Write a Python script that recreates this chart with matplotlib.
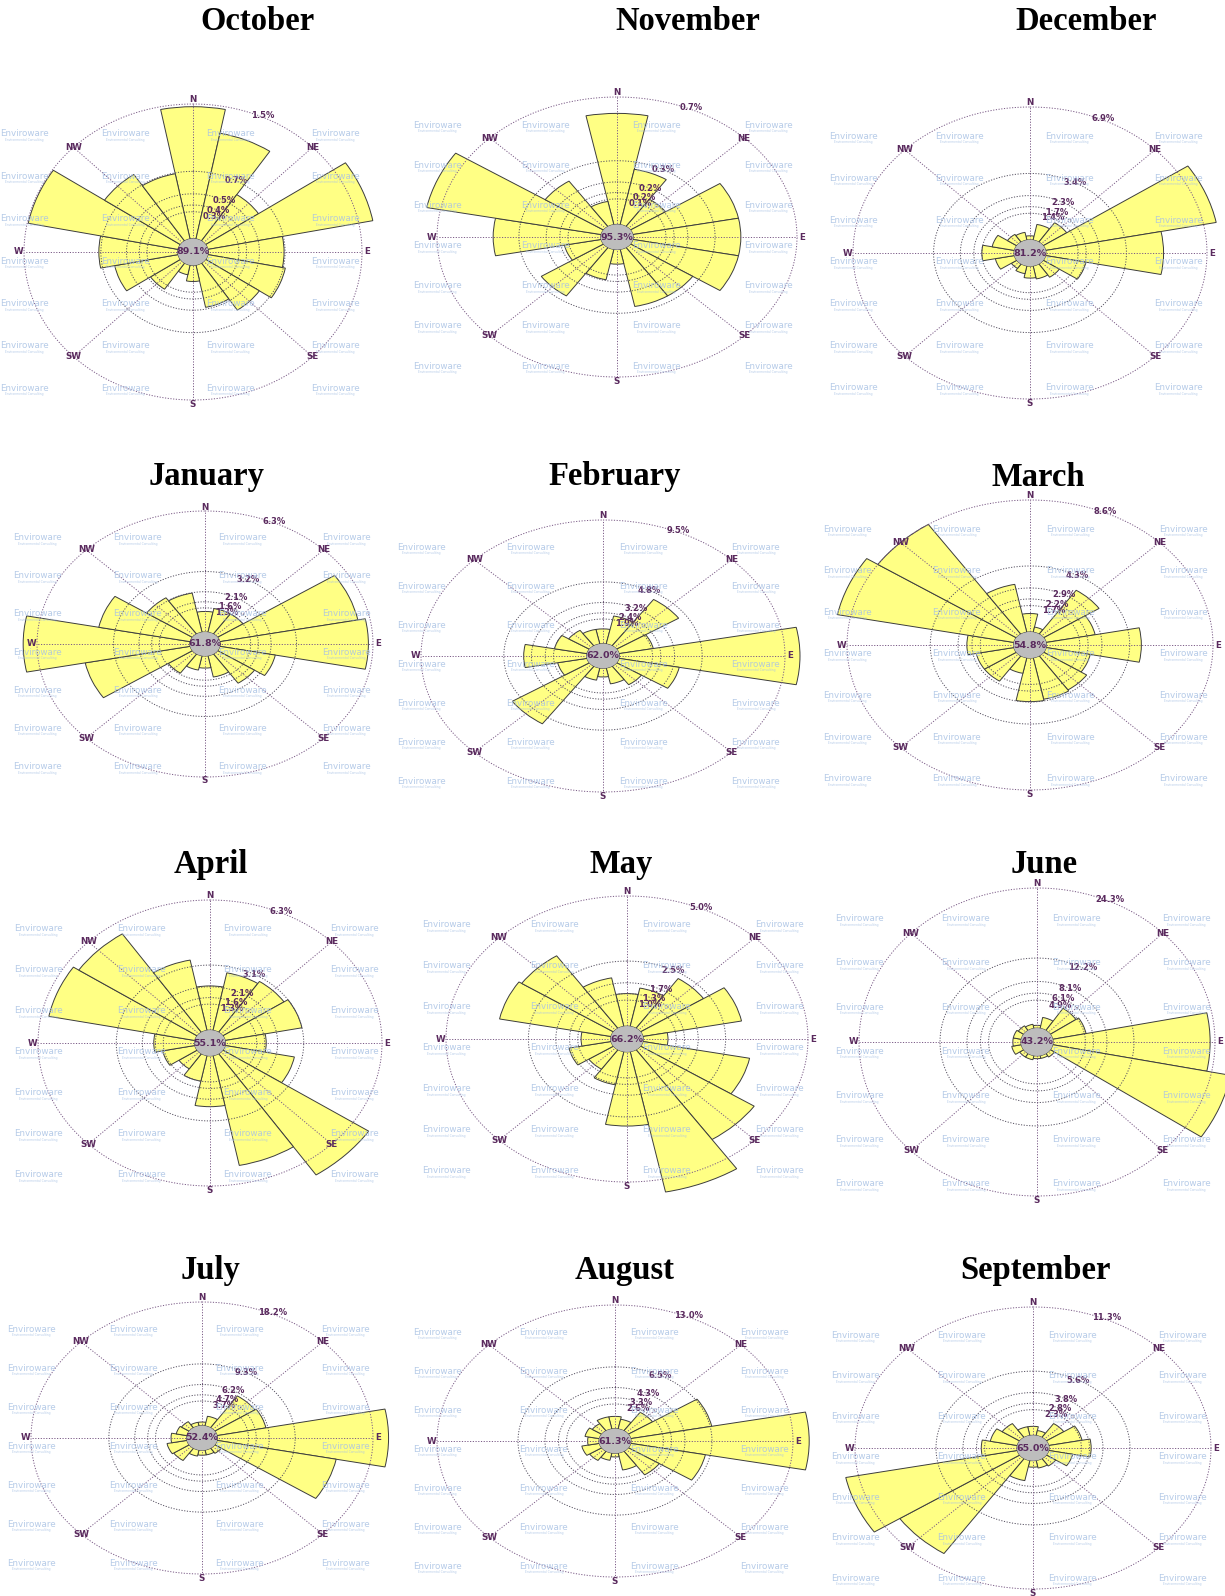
import numpy as np
import matplotlib.pyplot as plt

# monthly wind roses, 16 sectors clockwise from north, frequencies in %
directions = ['N', 'NNE', 'NE', 'ENE', 'E', 'ESE', 'SE', 'SSE',
              'S', 'SSW', 'SW', 'WSW', 'W', 'WNW', 'NW', 'NNW']
compass = ['N', 'NE', 'E', 'SE', 'S', 'SW', 'W', 'NW']

months = ['October', 'November', 'December', 'January', 'February', 'March',
          'April', 'May', 'June', 'July', 'August', 'September']

oct_freq = [1.47, 1.20, 0.62, 1.64, 0.74, 0.77, 0.63, 0.48, 0.18, 0.11, 0.35, 0.63, 0.77, 1.49, 0.89, 0.74]
nov_freq = [0.61, 0.31, 0.18, 0.46, 0.46, 0.46, 0.32, 0.32, 0.08, 0.17, 0.32, 0.16, 0.46, 0.76, 0.30, 0.13]
dec_freq = [0.21, 0.83, 1.21, 7.45, 5.04, 1.76, 0.83, 0.69, 0.62, 0.41, 0.28, 0.83, 1.38, 0.97, 0.48, 0.41]
jan_freq = [1.07, 1.26, 1.26, 5.80, 6.11, 2.33, 1.83, 1.13, 0.63, 0.76, 1.20, 4.41, 6.87, 3.84, 2.27, 2.08]
feb_freq = [1.14, 2.19, 4.28, 2.00, 10.36, 3.52, 1.71, 1.24, 0.67, 0.95, 5.32, 1.71, 3.61, 1.90, 1.43, 1.14]
mar_freq = [1.20, 0.34, 3.44, 2.58, 4.90, 2.32, 2.67, 2.75, 2.84, 1.03, 1.98, 1.98, 2.41, 9.29, 8.60, 3.18]
apr_freq = [2.14, 2.84, 2.96, 3.15, 1.64, 2.84, 7.06, 5.42, 2.46, 1.26, 0.88, 1.32, 1.64, 5.99, 5.73, 3.47]
may_freq = [1.25, 1.50, 2.30, 3.05, 0.75, 3.30, 4.15, 5.50, 2.85, 1.30, 0.90, 1.30, 0.90, 3.45, 3.35, 1.90]
jun_freq = [0.49, 1.94, 4.62, 5.10, 23.57, 27.22, 0.73, 0.49, 0.49, 0.73, 0.73, 1.46, 1.22, 1.22, 0.97, 0.73]
jul_freq = [0.55, 1.46, 5.64, 5.82, 20.02, 14.20, 0.91, 0.73, 0.73, 0.91, 2.18, 2.37, 1.82, 1.27, 1.09, 0.55]
aug_freq = [1.30, 1.04, 2.34, 6.63, 14.30, 6.11, 2.99, 1.82, 0.39, 0.78, 1.17, 1.43, 0.91, 1.17, 0.91, 1.30]
sep_freq = [0.79, 0.45, 1.47, 2.37, 2.94, 1.70, 0.79, 0.68, 0.57, 1.81, 10.06, 12.20, 2.49, 1.92, 1.47, 0.79]
freqs = [oct_freq, nov_freq, dec_freq, jan_freq, feb_freq, mar_freq,
         apr_freq, may_freq, jun_freq, jul_freq, aug_freq, sep_freq]

calms = ['89.1%', '95.3%', '81.2%', '61.8%', '62.0%', '54.8%',
         '55.1%', '66.2%', '43.2%', '52.4%', '61.3%', '65.0%']

# outer ring value, inner rings sit at 1/2, 1/3, 1/4, 1/5 of it
ring_max = [1.5, 0.7, 6.9, 6.3, 9.5, 8.6, 6.3, 5.0, 24.3, 18.2, 13.0, 11.3]
ring_labels = [
    ['1.5%', '0.7%', '0.5%', '0.4%', '0.3%'],
    ['0.7%', '0.3%', '0.2%', '0.2%', '0.1%'],
    ['6.9%', '3.4%', '2.3%', '1.7%', '1.4%'],
    ['6.3%', '3.2%', '2.1%', '1.6%', '1.3%'],
    ['9.5%', '4.8%', '3.2%', '2.4%', '1.9%'],
    ['8.6%', '4.3%', '2.9%', '2.2%', '1.7%'],
    ['6.3%', '3.1%', '2.1%', '1.6%', '1.3%'],
    ['5.0%', '2.5%', '1.7%', '1.3%', '1.0%'],
    ['24.3%', '12.2%', '8.1%', '6.1%', '4.9%'],
    ['18.2%', '9.3%', '6.2%', '4.7%', '3.7%'],
    ['13.0%', '6.5%', '4.3%', '3.3%', '2.6%'],
    ['11.3%', '5.6%', '3.8%', '2.8%', '2.3%'],
]

# layout in pixels: rose centre, outer ring half-width / half-height, title spot
W, H = 1225, 1596
centers = [(193, 252), (617, 237), (1030, 253),
           (205, 644), (603, 656), (1030, 645),
           (210, 1043), (627, 1039), (1037, 1042),
           (202, 1438), (615, 1441), (1033, 1448)]
radii = [(169, 148), (180, 140), (177, 146),
         (168, 133), (182, 136), (183, 145),
         (172, 143), (181, 143), (178, 154),
         (171, 136), (178, 136), (178, 141)]
title_xy = [(257, 22), (688, 22), (1086, 22),
            (207, 477), (615, 477), (1038, 477),
            (211, 865), (621, 865), (1044, 865),
            (211, 1271), (625, 1271), (1035, 1271)]

CALM_R = 0.09
RMAX = 1.14
purple = '#5a2a5e'
grid_c = '#7a5a86'

fig = plt.figure(figsize=(W / 100, H / 100), dpi=100)
fig.patch.set_facecolor('white')

theta = np.deg2rad(np.arange(16) * 22.5)
ring_t = np.linspace(0, 2 * np.pi, 361)

for i, month in enumerate(months):
    cx, cy = centers[i]
    hr, vr = radii[i]
    ax = fig.add_axes([(cx - hr * RMAX) / W, 1 - (cy + vr * RMAX) / H,
                       2 * hr * RMAX / W, 2 * vr * RMAX / H], projection='polar')
    ax.set_aspect('auto')
    ax.set_theta_zero_location('N')
    ax.set_theta_direction(-1)
    ax.set_ylim(0, RMAX)
    ax.axis('off')

    vals = np.array(freqs[i])
    M = ring_max[i]
    ax.bar(theta, vals / M * (1 - CALM_R), width=np.deg2rad(22.5), bottom=CALM_R,
           color='#ffff84', edgecolor='#3c3c3c', linewidth=0.7, zorder=1, clip_on=False)

    # rings and their labels
    for k, lab in zip([1, 2, 3, 4, 5], ring_labels[i]):
        r = CALM_R + (1 - CALM_R) / k
        ax.plot(ring_t, np.full_like(ring_t, r), ls=(0, (1.2, 1.6)),
                color=grid_c if k == 1 else '#555060', lw=0.7, zorder=2)
        ax.text(np.deg2rad(28 if k > 1 else 24), r + (0.01 if k == 1 else 0), lab,
                fontsize=6.0, fontweight='bold', color=purple,
                ha='center', va='center', zorder=5)

    # spokes and compass points
    for j, name in enumerate(compass):
        a = np.deg2rad(j * 45)
        ax.plot([a, a], [0, 1], ls=(0, (1.2, 1.6)), color=grid_c, lw=0.7, zorder=2)
        ax.text(a, 1.03 if j % 2 == 0 else 1.0, name, fontsize=6.3, fontweight='bold',
                color=purple, ha='center', va='center', zorder=5)

    # calm share in the centre
    ax.fill(ring_t, np.full_like(ring_t, CALM_R), color='#bdbdbd', lw=0, zorder=3)
    ax.text(0, 0, calms[i], fontsize=6.8, fontweight='bold', color=purple,
            ha='center', va='center', zorder=6)

    # watermark grid
    for dx in (-1.0, -0.4, 0.22, 0.84):
        for j in range(7):
            x = cx + hr * dx
            y = cy + vr * (-0.8 + 0.287 * j)
            fig.text(x / W, 1 - y / H, 'Enviroware', fontsize=6.3, color='#a9c2e4',
                     alpha=0.85, ha='center', va='center', zorder=4)
            fig.text(x / W, 1 - (y + 6) / H, 'Environmental Consulting', fontsize=2.2,
                     color='#a9c2e4', alpha=0.85, ha='center', va='center', zorder=4)

    tx, ty = title_xy[i]
    fig.text(tx / W, 1 - ty / H, month, fontsize=23.5, fontweight='bold',
             family='Liberation Serif', ha='center', va='center')

fig.savefig('out.png', dpi=100)
